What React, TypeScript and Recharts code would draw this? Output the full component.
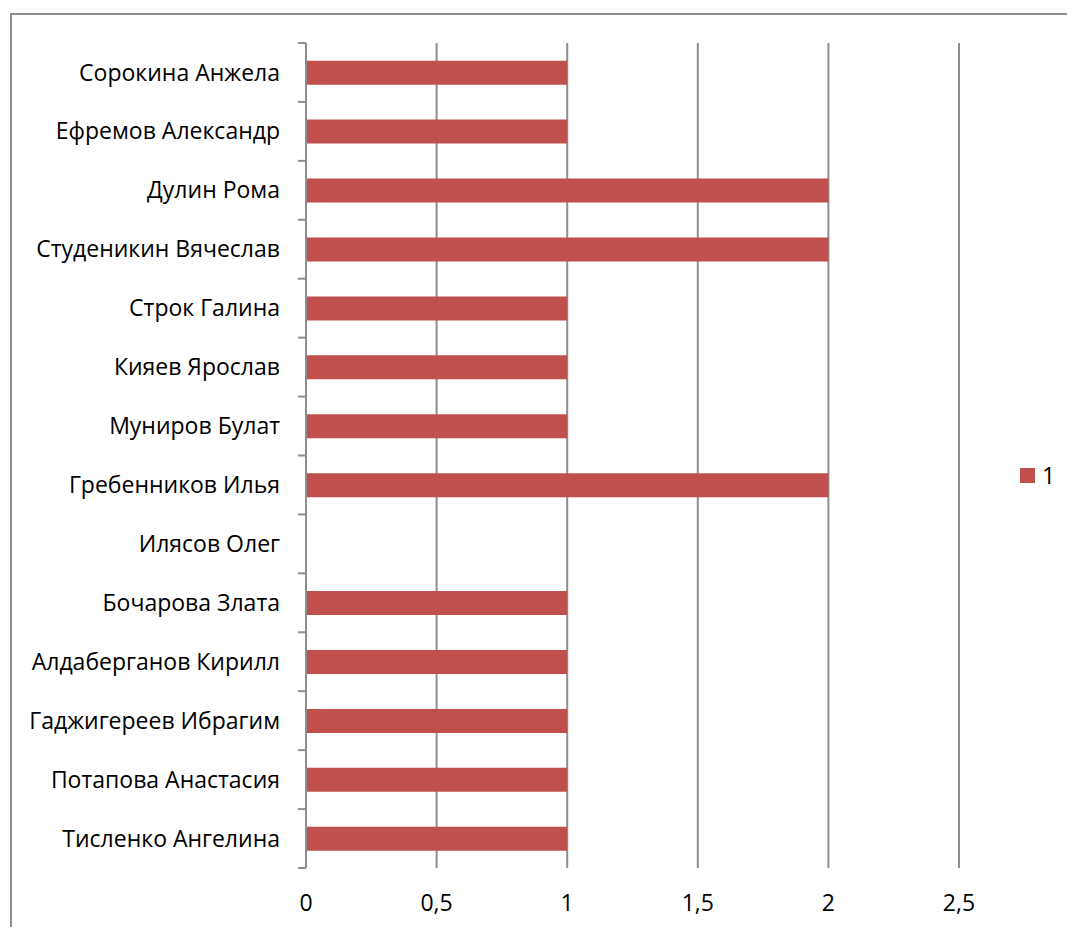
import { Bar, BarChart, CartesianGrid, Legend, XAxis, YAxis } from "recharts";

const NAMES = [
  "Сорокина Анжела",
  "Ефремов Александр",
  "Дулин Рома",
  "Студеникин Вячеслав",
  "Строк Галина",
  "Кияев Ярослав",
  "Муниров Булат",
  "Гребенников Илья",
  "Илясов Олег",
  "Бочарова Злата",
  "Алдаберганов Кирилл",
  "Гаджигереев Ибрагим",
  "Потапова Анастасия",
  "Тисленко Ангелина",
];
const SCORES = [1, 1, 2, 2, 1, 1, 1, 2, 0, 1, 1, 1, 1, 1];
const X_TICKS = [0, 0.5, 1, 1.5, 2, 2.5];
const SERIES_NAME = "1";

const DATA = NAMES.map((name, i) => ({ name, v: SCORES[i] }));

const FONT = "'Open Sans', 'Noto Sans', sans-serif";
const GRID = "#8e8e8e";
const BAR = "#C0504D";
const TICK_SIZE = 8;
const TICK_MARGIN = 18;

// Excel puts category tick marks on the band edges, not the centres
function NameTick(props: any) {
  const { x, y, payload, index, visibleTicksCount } = props;
  const axisX = x + TICK_SIZE + TICK_MARGIN;
  const half = payload.offset || 0;
  const last = index === visibleTicksCount - 1;
  return (
    <g>
      <line x1={axisX - TICK_SIZE} x2={axisX} y1={y - half} y2={y - half} stroke={GRID} strokeWidth={2} />
      {last && (
        <line x1={axisX - TICK_SIZE} x2={axisX} y1={y + half} y2={y + half} stroke={GRID} strokeWidth={2} />
      )}
      <text x={x} y={y} dy="0.35em" textAnchor="end" fill="#000" fontSize={23} fontFamily={FONT}>
        {payload.value}
      </text>
    </g>
  );
}

function LegendBox(props: any) {
  const items = props.payload || [];
  return (
    <div style={{ fontFamily: FONT, fontSize: 23, color: "#000", whiteSpace: "nowrap" }}>
      {items.map((it: any) => (
        <div key={it.value} style={{ display: "flex", alignItems: "center" }}>
          <span style={{ display: "inline-block", width: 15, height: 15, background: it.color, marginRight: 7 }} />
          <span>{it.value}</span>
        </div>
      ))}
    </div>
  );
}

export default function App() {
  return (
    <div style={{ position: "fixed", left: 0, top: 0, width: 1067, height: 927, overflow: "hidden", background: "#fff" }}>
      <style>{"body{margin:0;overflow:hidden}"}</style>
      <div
        style={{
          position: "absolute",
          left: 10,
          top: 13,
          width: 1200,
          height: 1200,
          borderLeft: `2px solid ${GRID}`,
          borderTop: `2px solid ${GRID}`,
        }}
      />
      <div style={{ position: "absolute", left: 8, top: 8 }}>
        <BarChart
          width={1059}
          height={919}
          data={DATA}
          layout="vertical"
          margin={{ top: 35, right: 108, bottom: 0, left: 0 }}
          barCategoryGap="30%"
        >
          <CartesianGrid horizontal={false} stroke={GRID} strokeWidth={2} />
          <XAxis
            type="number"
            domain={[0, 2.5]}
            ticks={X_TICKS}
            axisLine={false}
            tickLine={false}
            tickSize={0}
            tickMargin={27}
            height={59}
            tickFormatter={(v) => String(v).replace(".", ",")}
            tick={{ fontSize: 23, fill: "#000", fontFamily: FONT }}
          />
          <YAxis
            type="category"
            dataKey="name"
            width={298}
            tickSize={TICK_SIZE}
            tickMargin={TICK_MARGIN}
            tickLine={false}
            axisLine={{ stroke: GRID, strokeWidth: 2 }}
            interval={0}
            tick={<NameTick />}
          />
          <Legend
            layout="horizontal"
            align="center"
            verticalAlign="middle"
            content={<LegendBox />}
            wrapperStyle={{ left: 1012, top: 451, width: 47 }}
          />
          <Bar dataKey="v" name={SERIES_NAME} fill={BAR} isAnimationActive={false} />
        </BarChart>
      </div>
    </div>
  );
}
